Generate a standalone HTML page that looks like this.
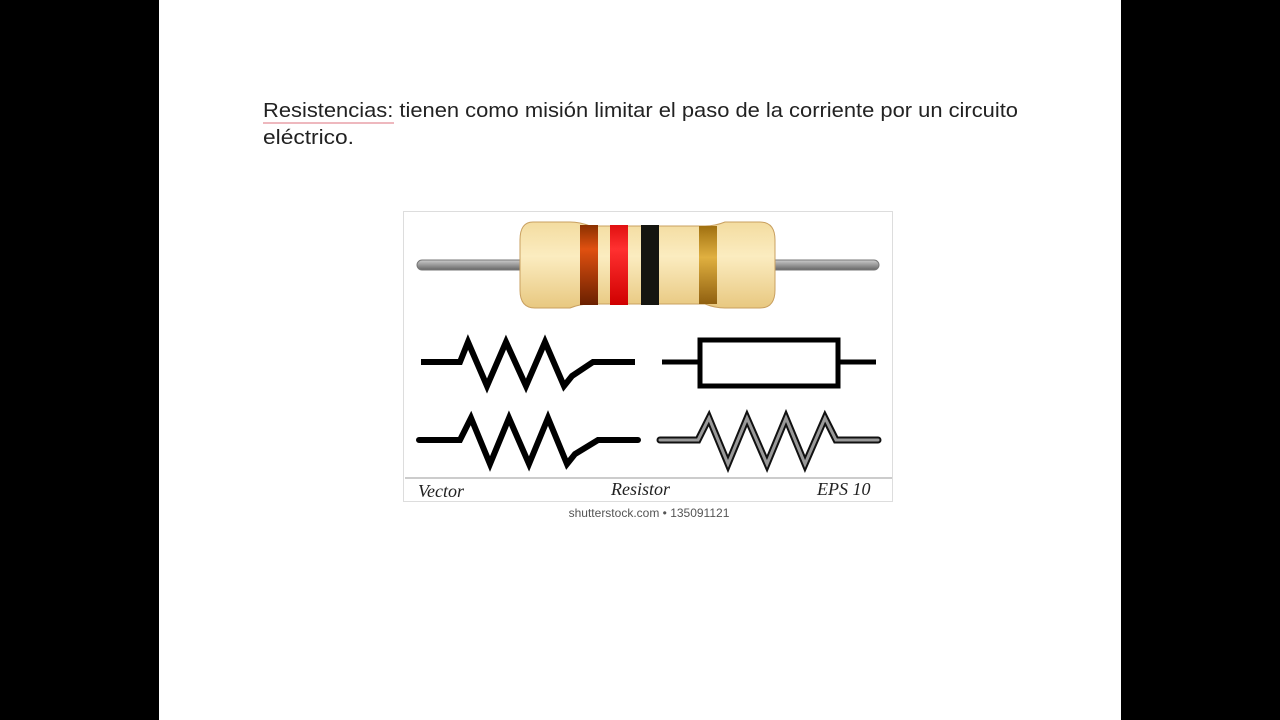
<!DOCTYPE html>
<html><head><meta charset="utf-8"><style>
html,body{margin:0;padding:0;background:#000;}
body{width:1280px;height:720px;position:relative;overflow:hidden;font-family:"Liberation Sans",sans-serif;}
#page{position:absolute;left:159px;top:0;width:962px;height:720px;background:#fff;}
</style></head><body>
<div id="page"></div>
<svg width="1280" height="720" style="position:absolute;left:0;top:0">
<defs>
<linearGradient id="body" x1="0" y1="0" x2="0" y2="1">
<stop offset="0" stop-color="#f3dca0"/><stop offset="0.4" stop-color="#fbecc0"/><stop offset="1" stop-color="#e8c880"/></linearGradient>
<linearGradient id="wire" x1="0" y1="0" x2="0" y2="1">
<stop offset="0" stop-color="#ccc"/><stop offset="0.5" stop-color="#999"/><stop offset="1" stop-color="#666"/></linearGradient>
<linearGradient id="b1" x1="0" y1="0" x2="0" y2="1"><stop offset="0" stop-color="#8a3000"/><stop offset="0.3" stop-color="#e05010"/><stop offset="1" stop-color="#6a2000"/></linearGradient>
<linearGradient id="b2" x1="0" y1="0" x2="0" y2="1"><stop offset="0" stop-color="#e01010"/><stop offset="0.3" stop-color="#ff3030"/><stop offset="1" stop-color="#d00000"/></linearGradient>
<linearGradient id="b4" x1="0" y1="0" x2="0" y2="1"><stop offset="0" stop-color="#a07010"/><stop offset="0.4" stop-color="#e0b040"/><stop offset="1" stop-color="#906010"/></linearGradient>
</defs>
<text x="263" y="117" font-size="20" fill="#222" textLength="755" lengthAdjust="spacingAndGlyphs">Resistencias: tienen como misión limitar el paso de la corriente por un circuito</text>
<line x1="263" y1="123" x2="394" y2="123" stroke="#e8a0a8" stroke-width="1.5"/>
<text x="263" y="144" font-size="20" fill="#222" textLength="91" lengthAdjust="spacingAndGlyphs">eléctrico.</text>

<rect x="403.5" y="211.5" width="489" height="290" fill="#fff" stroke="#ddd"/>
<line x1="405" y1="478" x2="892" y2="478" stroke="#ccc" stroke-width="2"/>
<rect x="417" y="260" width="462" height="10" rx="5" fill="url(#wire)" stroke="#777" stroke-width="1"/>
<path d="M533,222 Q520,222 520,240 L520,290 Q520,308 535,308 L570,308 Q580,304 590,304 L705,304 Q715,308 725,308 L760,308 Q775,308 775,290 L775,240 Q775,222 760,222 L725,222 Q715,226 705,226 L590,226 Q580,222 570,222 Z" fill="url(#body)" stroke="#c9a060" stroke-width="1"/>
<rect x="580" y="225" width="18" height="80" fill="url(#b1)"/>
<rect x="610" y="225" width="18" height="80" fill="url(#b2)"/>
<rect x="641" y="225" width="18" height="80" fill="#151510"/>
<rect x="699" y="226" width="18" height="78" fill="url(#b4)"/>

<g fill="none" stroke="#000" stroke-width="6" stroke-linejoin="miter" stroke-linecap="butt">
<path d="M421,362 H460 L468,342 L487,386 L506,342 L526,386 L545,342 L564,386 L572,376 L593,362 H635"/>
<rect x="700" y="340" width="138" height="46" stroke-width="5"/>
<path d="M662,362 H700 M838,362 H876" stroke-width="5"/>
<path d="M419,440 H460 L471,418 L490,464 L509,418 L529,464 L548,418 L567,464 L575,454 L598,440 H638" stroke-linecap="round"/>
<path d="M660,440 H698 L709,418 L728,464 L747,418 L767,464 L786,418 L805,464 L825,418 L836,440 H878" stroke="#111" stroke-width="7" stroke-linecap="round"/>
<path d="M660,440 H698 L709,418 L728,464 L747,418 L767,464 L786,418 L805,464 L825,418 L836,440 H878" stroke="#999" stroke-width="3" stroke-linecap="round"/>
</g>
<g font-family="Liberation Serif,serif" font-style="italic" font-size="18" fill="#222">
<text x="418" y="497">Vector</text>
<text x="611" y="495">Resistor</text>
<text x="817" y="495">EPS 10</text>
</g>
<text x="649" y="517" font-size="12" fill="#555" text-anchor="middle">shutterstock.com • 135091121</text>
</svg>
</body></html>
